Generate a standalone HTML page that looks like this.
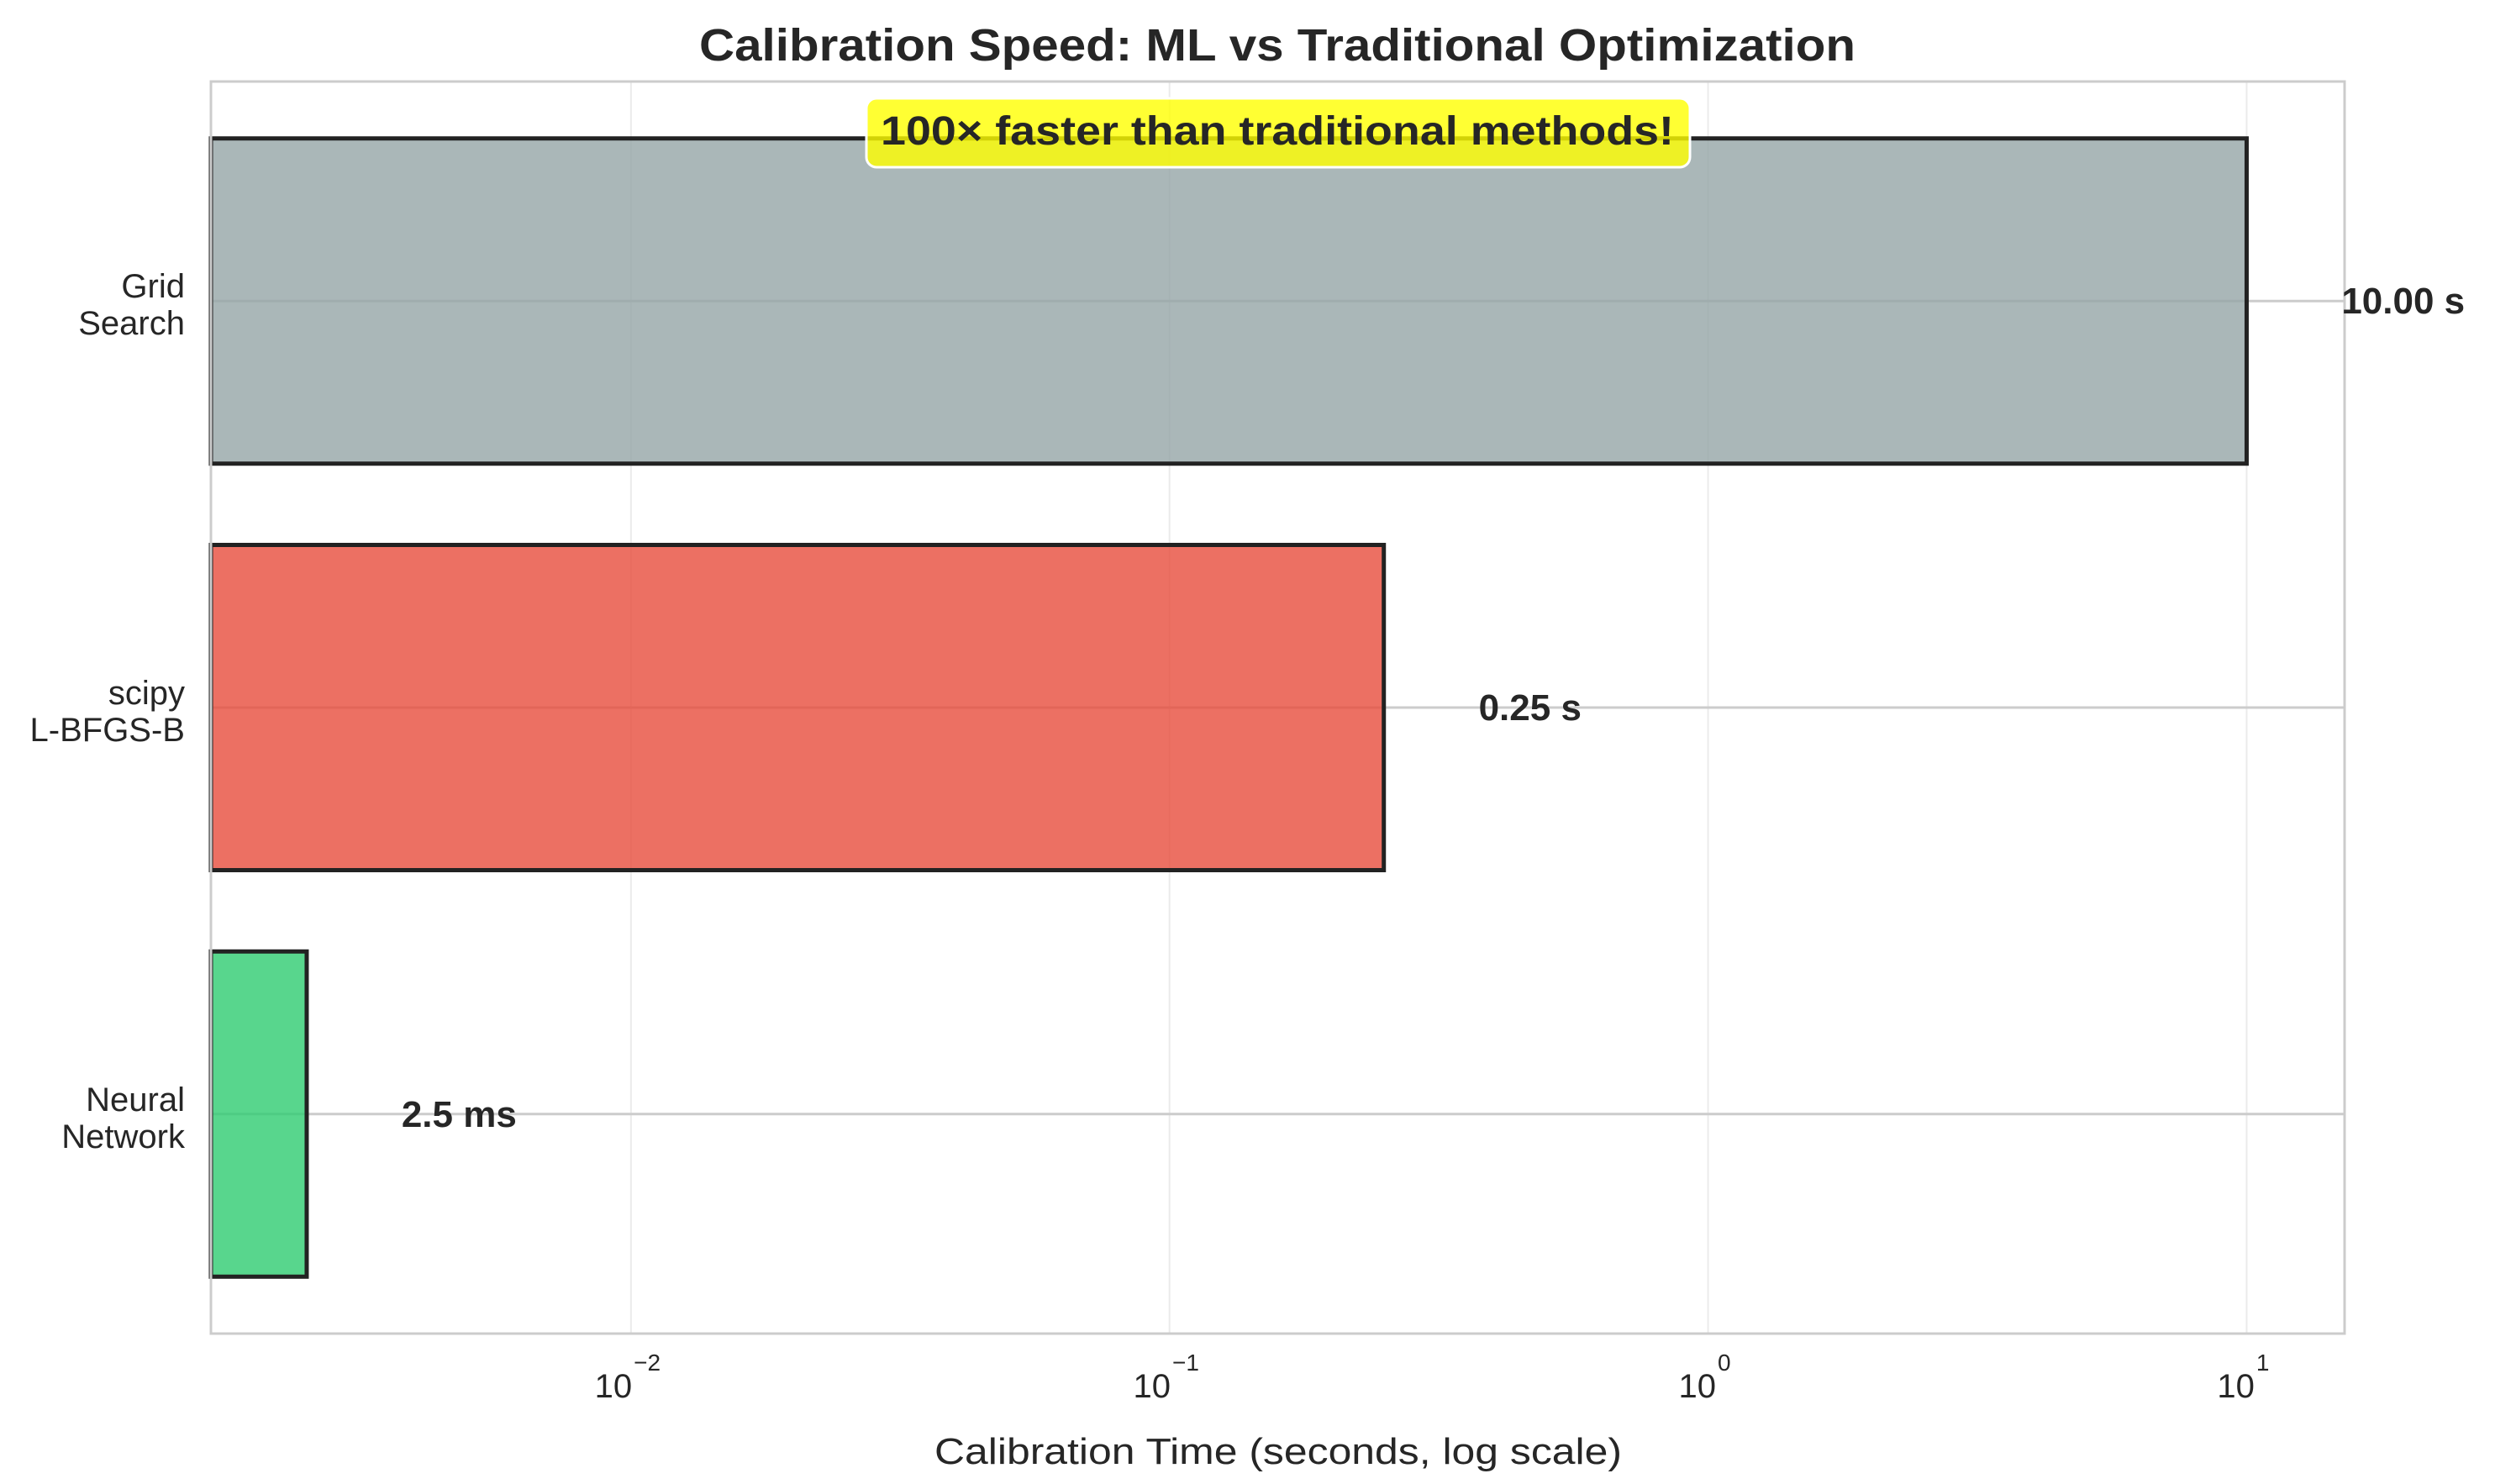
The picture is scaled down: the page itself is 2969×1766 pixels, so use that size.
<!DOCTYPE html>
<html><head><meta charset="utf-8"><style>
html,body{margin:0;padding:0;background:#fff}
svg{display:block}
text{font-family:"Liberation Sans",Arial,sans-serif;fill:#262626}
</style></head><body>
<svg id="chart" width="2969" height="1766" viewBox="0 0 2969 1766" xmlns="http://www.w3.org/2000/svg">
<rect width="2969" height="1766" fill="#fff"/>
<g id="grid"></g>
<g id="bars"></g>
<rect x="251" y="97" width="2539" height="1490" fill="none" stroke="#cccccc" stroke-width="3"/>
<g id="ticks"></g>
<g id="labels"></g>
<text x="1520" y="72" text-anchor="middle" font-size="54" font-weight="bold" textLength="1376" lengthAdjust="spacingAndGlyphs">Calibration Speed: ML vs Traditional Optimization</text>
<text x="1521" y="1742" text-anchor="middle" font-size="44" textLength="818" lengthAdjust="spacingAndGlyphs">Calibration Time (seconds, log scale)</text>
<rect x="1031" y="117" width="980" height="82" rx="12" fill="#ffff00" fill-opacity="0.8" stroke="#fff" stroke-width="3"/>
<text x="1520" y="172" text-anchor="middle" font-size="48" font-weight="bold" textLength="944" lengthAdjust="spacingAndGlyphs">100× faster than traditional methods!</text>
</svg>
<script>
const categories = [["Neural","Network"],["scipy","L-BFGS-B"],["Grid","Search"]];
const times = [0.0025, 0.25, 10.0];
const valueLabels = ["2.5 ms","0.25 s","10.00 s"];
const barColors = ["#2ecc71","#e74c3c","#95a5a6"];
const xTickExps = [-2,-1,0,1];

const NS="http://www.w3.org/2000/svg";
const X0=251, X1=2790, Y0=97, Y1=1587;
const LMIN=Math.log10(0.00166), LMAX=Math.log10(15.2);
const YMIN=-0.54, YMAX=2.54;
function xs(v){return X0+(Math.log10(v)-LMIN)/(LMAX-LMIN)*(X1-X0);}
function ys(i){return Y1-(i-YMIN)/(YMAX-YMIN)*(Y1-Y0);}
function mk(tag,attrs,parent){const e=document.createElementNS(NS,tag);for(const k in attrs)e.setAttribute(k,attrs[k]);parent.appendChild(e);return e;}
const grid=document.getElementById('grid'),bars=document.getElementById('bars'),ticks=document.getElementById('ticks'),labels=document.getElementById('labels');

xTickExps.forEach(function(p){
  const x=xs(Math.pow(10,p));
  const l=mk('line',{x1:x,x2:x,y1:Y0,y2:Y1,stroke:'#ebebeb','stroke-width':2},grid);
  
  
  const t=mk('text',{x:x-4,y:1663,'text-anchor':'middle','font-size':40},ticks);
  
  
  t.textContent='10';
  const s=mk('tspan',{dx:2,dy:-32,'font-size':28},t);
  s.textContent=(p<0?'\u2212':'')+Math.abs(p);
});

categories.forEach(function(c,i){
  const y=ys(i);
  const g=mk('line',{x1:X0,x2:X1,y1:y,y2:y,stroke:'#cccccc','stroke-width':3},grid);
  
  
  const h=(ys(0)-ys(0.8));
  const r=mk('rect',{x:X0,y:y-h/2,width:xs(times[i])-X0,height:h,fill:barColors[i],'fill-opacity':0.8,stroke:'#222','stroke-width':5},bars);
  
  
  const t=mk('text',{x:220,y:y-4,'text-anchor':'end','font-size':40},ticks);
  
  
  const a=mk('tspan',{x:220,dy:0},t);a.textContent=c[0];
  const b=mk('tspan',{x:220,dy:44},t);b.textContent=c[1];
  const v=mk('text',{x:xs(times[i]*1.5),y:y+15,'font-size':44,'font-weight':'bold'},labels);
  
  
  v.textContent=valueLabels[i];
});
</script>
</body></html>
